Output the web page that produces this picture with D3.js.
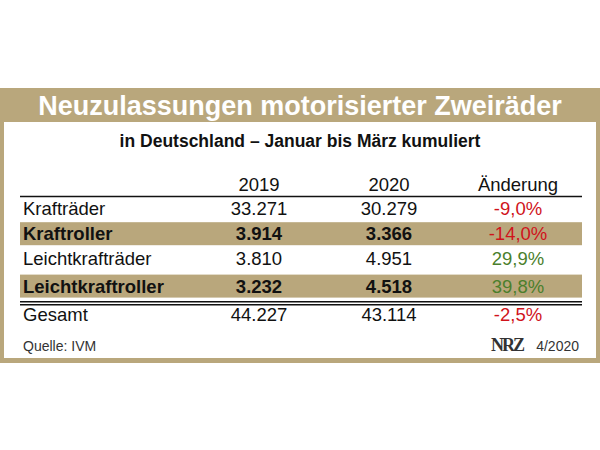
<!DOCTYPE html>
<html><head><meta charset="utf-8">
<script src="https://cdn.jsdelivr.net/npm/d3@7"></script>
<style>body{margin:0;background:#fff}</style>
</head><body>
<script>
// table data
const categories = ['Krafträder', 'Kraftroller', 'Leichtkrafträder', 'Leichtkraftroller', 'Gesamt']
const values2019 = ['33.271', '3.914', '3.810', '3.232', '44.227']
const values2020 = ['30.279', '3.366', '4.951', '4.518', '43.114']
const changes = [-9.0, -14.0, 29.9, 39.8, -2.5]
const columns = ['', '2019', '2020', 'Änderung']

const width = 600, height = 450
const gold = '#b9a77c'
const font = '"Liberation Sans Narrow", "Liberation Sans", Arial, sans-serif'

const svg = d3.select('body').append('svg')
  .attr('width', width).attr('height', height)

// frame
svg.append('rect').attr('x', 0).attr('y', 88).attr('width', 600).attr('height', 275).attr('fill', gold)
svg.append('rect').attr('x', 4).attr('y', 122).attr('width', 592).attr('height', 236).attr('fill', '#fff')

svg.append('text').attr('x', 300).attr('y', 115).attr('text-anchor', 'middle')
  .style('font-family', font).style('font-weight', 'bold').style('font-size', '27px')
  .attr('fill', '#fff').text('Neuzulassungen motorisierter Zweiräder')
svg.append('text').attr('x', 300).attr('y', 147).attr('text-anchor', 'middle')
  .style('font-family', font).style('font-weight', 'bold').style('font-size', '17.5px')
  .attr('fill', '#111').text('in Deutschland – Januar bis März kumuliert')

// scales
const x = d3.scaleOrdinal().domain(columns).range([23, 259, 389, 518])
const y2 = d3.scaleBand().domain(categories).range([198, 324])

// header
svg.selectAll('text.head').data(columns.slice(1)).enter().append('text')
  .attr('class', 'head').attr('x', d => x(d)).attr('y', 191).attr('text-anchor', 'middle')
  .style('font-family', font).style('font-size', '18.5px').attr('fill', '#111').text(d => d)
svg.append('line').attr('x1', 20).attr('x2', 582).attr('y1', 196.5).attr('y2', 196.5)
  .attr('stroke', '#111').attr('stroke-width', 1.5)

// shaded rows
svg.selectAll('rect.band').data(categories.filter((d, i) => i % 2 === 1)).enter().append('rect')
  .attr('class', 'band').attr('x', 20).attr('width', 562)
  .attr('y', d => y2(d) - 1 + (categories.indexOf(d) > 2 ? 2 : 0)).attr('height', 23).attr('fill', gold)

// double line above total
const ly = y2('Gesamt') + 3
svg.append('line').attr('x1', 20).attr('x2', 582).attr('y1', ly).attr('y2', ly).attr('stroke', '#111').attr('stroke-width', 1.5)
svg.append('line').attr('x1', 20).attr('x2', 582).attr('y1', ly + 3).attr('y2', ly + 3).attr('stroke', '#111').attr('stroke-width', 1.5)

const rows = svg.selectAll('g.row').data(categories).enter().append('g')
  .attr('transform', (d, i) => 'translate(0,' + (y2(d) + 17 + (i === 3 ? 2 : i === 4 ? 5 : 0)) + ')')
  .style('font-family', font).style('font-size', '18.5px')
rows.append('text').attr('x', x('')).text(d => d)
  .attr('font-weight', (d, i) => i % 2 ? 'bold' : null).attr('fill', '#111')
rows.append('text').attr('x', x('2019')).attr('text-anchor', 'middle').text((d, i) => values2019[i])
  .attr('font-weight', (d, i) => i % 2 ? 'bold' : null).attr('fill', '#111')
rows.append('text').attr('x', x('2020')).attr('text-anchor', 'middle').text((d, i) => values2020[i])
  .attr('font-weight', (d, i) => i % 2 ? 'bold' : null).attr('fill', '#111')
rows.append('text').attr('x', x('Änderung')).attr('text-anchor', 'middle')
  .text((d, i) => d3.format('.1f')(changes[i]).replace('.', ',').replace('−', '-') + '%')
  .attr('fill', (d, i) => changes[i] < 0 ? '#d0131b' : '#4b7f2c')

// footer
svg.append('text').attr('x', 23).attr('y', 351).style('font-family', font).style('font-size', '14px')
  .attr('fill', '#333').text('Quelle: IVM')
svg.append('text').attr('x', 523).attr('y', 351).attr('text-anchor', 'end')
  .style('font-family', 'Liberation Serif, serif').style('font-weight', 'bold').style('font-size', '18px')
  .style('letter-spacing', '-2px').attr('fill', '#333').text('NRZ')
svg.append('text').attr('x', 579).attr('y', 351).attr('text-anchor', 'end').style('font-family', font)
  .style('font-size', '14px').attr('fill', '#333').text('4/2020')
</script>
</body></html>
